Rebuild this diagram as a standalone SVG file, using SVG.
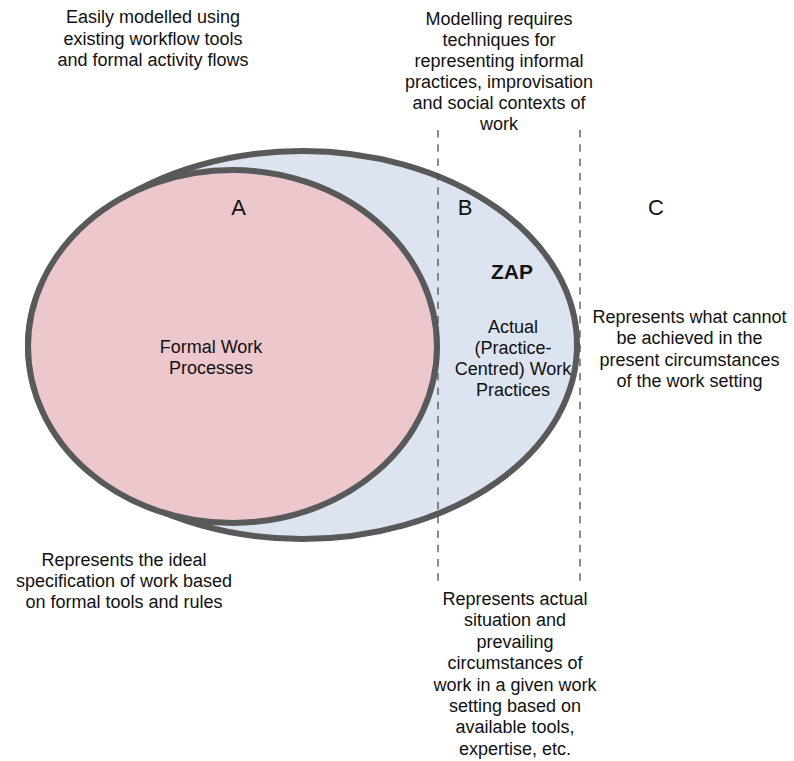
<svg xmlns="http://www.w3.org/2000/svg" width="794" height="761" viewBox="0 0 794 761">
  <style>
    text { font-family: "Liberation Sans", Arial, sans-serif; font-size: 18px; fill: #111; text-anchor: middle; }
    .zone { font-size: 22px; }
    .bold { font-weight: bold; font-size: 21px; }
    .set { stroke: #595959; stroke-width: 6; }
    .divider { stroke: #505050; stroke-width: 1.3; stroke-dasharray: 7.5 6.8; fill: none; }
  </style>

  <!-- Overall practice space (ZAP) -->
  <g id="actual-practices">
    <ellipse class="set" cx="302.5" cy="345" rx="274.5" ry="194" fill="#dbe4f0"/>
  </g>

  <!-- Formal work processes -->
  <g id="formal-processes">
    <ellipse class="set" cx="232.5" cy="346.5" rx="204.5" ry="176.5" fill="#ecc7cc"/>
    <text x="211" y="353">Formal Work</text>
    <text x="211" y="374">Processes</text>
  </g>

  <!-- Zone boundaries -->
  <g id="connectors">
    <line class="divider" x1="438" y1="130" x2="438" y2="584"/>
    <line class="divider" x1="580" y1="130" x2="580" y2="584"/>
  </g>

  <!-- Zone letters -->
  <g id="zone-a"><text class="zone" x="238.5" y="215">A</text></g>
  <g id="zone-b"><text class="zone" x="465" y="215">B</text></g>
  <g id="zone-c"><text class="zone" x="656" y="215">C</text></g>

  <g id="zap">
    <text class="bold" x="512" y="279">ZAP</text>
    <text x="513" y="333">Actual</text>
    <text x="513" y="354">(Practice-</text>
    <text x="513" y="375">Centred) Work</text>
    <text x="513" y="396">Practices</text>
  </g>

  <!-- Annotations -->
  <g id="note-formal-modelling">
    <text x="153" y="23">Easily modelled using</text>
    <text x="153" y="45">existing workflow tools</text>
    <text x="153" y="66">and formal activity flows</text>
  </g>

  <g id="note-practice-modelling">
    <text x="499" y="25">Modelling requires</text>
    <text x="499" y="46">techniques for</text>
    <text x="499" y="67">representing informal</text>
    <text x="499" y="88">practices, improvisation</text>
    <text x="499" y="109">and social contexts of</text>
    <text x="499" y="130">work</text>
  </g>

  <g id="note-unachievable">
    <text x="689.5" y="323">Represents what cannot</text>
    <text x="689.5" y="344">be achieved in the</text>
    <text x="689.5" y="366">present circumstances</text>
    <text x="689.5" y="387">of the work setting</text>
  </g>

  <g id="note-ideal">
    <text x="124" y="566">Represents the ideal</text>
    <text x="124" y="587">specification of work based</text>
    <text x="124" y="608">on formal tools and rules</text>
  </g>

  <g id="note-actual">
    <text x="515" y="605">Represents actual</text>
    <text x="515" y="626">situation and</text>
    <text x="515" y="648">prevailing</text>
    <text x="515" y="669">circumstances of</text>
    <text x="515" y="691">work in a given work</text>
    <text x="515" y="712">setting based on</text>
    <text x="515" y="733">available tools,</text>
    <text x="515" y="755">expertise, etc.</text>
  </g>
</svg>
